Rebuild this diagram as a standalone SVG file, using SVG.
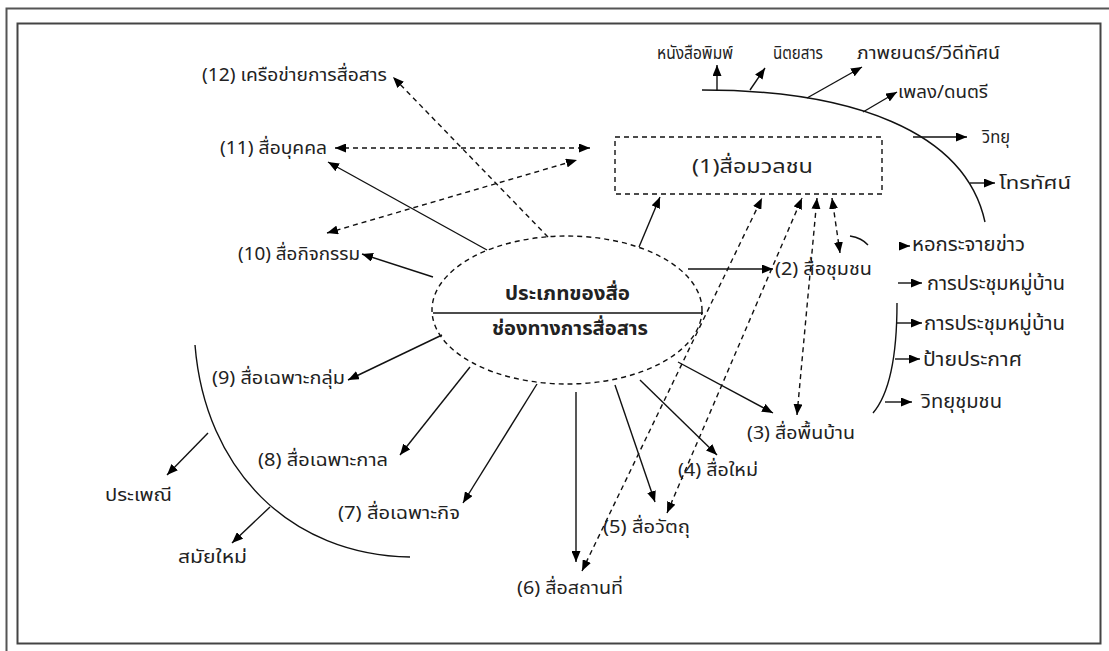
<svg xmlns="http://www.w3.org/2000/svg" width="1109" height="651" viewBox="0 0 1109 651">
<defs>
<marker id="ah" viewBox="0 0 11 9" refX="11" refY="4.5" markerWidth="11" markerHeight="9" markerUnits="userSpaceOnUse" orient="auto-start-reverse">
<path d="M0,0 L11,4.5 L0,9 z" fill="#000"/>
</marker>
<style>
.t{font-family:"Noto Sans Thai","Tahoma","DejaVu Sans","Liberation Sans",sans-serif;font-size:18px;fill:#222}
.m{font-size:18.5px}
.r{font-size:19px}
.b{font-weight:bold;font-size:19px}
.s{stroke:#111;stroke-width:1.4;fill:none}
.d{stroke:#111;stroke-width:1.4;fill:none;stroke-dasharray:5,4}
.a{marker-end:url(#ah)}
.aa{marker-start:url(#ah);marker-end:url(#ah)}
</style>
</defs>
<rect x="0" y="0" width="1109" height="651" fill="#fff"/>
<rect x="6.5" y="8.5" width="1110" height="650" fill="none" stroke="#555" stroke-width="2"/>
<rect x="17.5" y="23.5" width="1083" height="620" fill="none" stroke="#444" stroke-width="2"/>

<g id="connectors">
<path class="s a" d="M639,247 L660,197"/>
<path class="s a" d="M688,269 L773,269"/>
<path class="s a" d="M678,362 L773,413"/>
<path class="s a" d="M640,380 L717,455"/>
<path class="s a" d="M615,385 L655,502"/>
<path class="s a" d="M576,392 L576,562"/>
<path class="s a" d="M537,384 L463,503"/>
<path class="s a" d="M470,367 L400,455"/>
<path class="s a" d="M442,335 L348,380"/>
<path class="s a" d="M433,277 L362,254"/>
<path class="s a" d="M487,250 L328,162"/>
<path class="d a" d="M548,237 L393,77"/>
<path class="d aa" d="M335,148 L590,148"/>
<path class="d aa" d="M327,233 L577,160"/>
<path class="d aa" d="M582,571 L762,198"/>
<path class="d aa" d="M667,513 L802,198"/>
<path class="d aa" d="M797,415 L817,198"/>
<path class="d aa" d="M840,253 L832,198"/>
<path class="s" d="M702,90 C850,90 965,130 985,222"/>
<path class="s a" d="M717,90 L717,65"/>
<path class="s a" d="M750,90 L765,68"/>
<path class="s a" d="M807,98 L862,67"/>
<path class="s a" d="M863,112 L897,92"/>
<path class="s a" d="M913,137 L967,137"/>
<path class="s a" d="M970,183 L995,183"/>
<path class="s" d="M850,236 Q862,238 868,245"/>
<path class="s" d="M897,303 Q897,385 873,413"/>
<path class="s a" d="M900,246 L910,246"/>
<path class="s a" d="M898,283 L922,283"/>
<path class="s a" d="M897,323 L922,323"/>
<path class="s a" d="M895,359 L920,359"/>
<path class="s a" d="M885,402 L912,402"/>
<path class="s" d="M195,345 C205,470 290,555 410,557"/>
<path class="s a" d="M208,433 L167,475"/>
<path class="s a" d="M270,507 L232,543"/>
</g>

<g id="center">
<ellipse cx="567" cy="310" rx="135" ry="74" class="d"/>
<path class="s" d="M433,313 L703,313"/>
<text class="t b" x="505" y="300" textLength="125" lengthAdjust="spacingAndGlyphs">ประเภทของสื่อ</text>
<text class="t b" x="492" y="335" textLength="156" lengthAdjust="spacingAndGlyphs">ช่องทางการสื่อสาร</text>
</g>
<g id="n1">
<rect x="615" y="137" width="267" height="57" class="d"/>
<text class="t" x="692" y="173" style="font-size:20px" textLength="121" lengthAdjust="spacingAndGlyphs">(1)สื่อมวลชน</text>
</g>
<g id="n2"><text class="t" x="775" y="275" textLength="97" lengthAdjust="spacingAndGlyphs">(2) สื่อชุมชน</text></g>
<g id="n3"><text class="t" x="747" y="439" textLength="108" lengthAdjust="spacingAndGlyphs">(3) สื่อพื้นบ้าน</text></g>
<g id="n4"><text class="t" x="678" y="476" textLength="80" lengthAdjust="spacingAndGlyphs">(4) สื่อใหม่</text></g>
<g id="n5"><text class="t" x="603" y="533" textLength="87" lengthAdjust="spacingAndGlyphs">(5) สื่อวัตถุ</text></g>
<g id="n6"><text class="t" x="517" y="594" textLength="106" lengthAdjust="spacingAndGlyphs">(6) สื่อสถานที่</text></g>
<g id="n7"><text class="t" x="338" y="519" textLength="122" lengthAdjust="spacingAndGlyphs">(7) สื่อเฉพาะกิจ</text></g>
<g id="n8"><text class="t" x="258" y="466" textLength="130" lengthAdjust="spacingAndGlyphs">(8) สื่อเฉพาะกาล</text></g>
<g id="n9"><text class="t" x="212" y="384" textLength="133" lengthAdjust="spacingAndGlyphs">(9) สื่อเฉพาะกลุ่ม</text></g>
<g id="n10"><text class="t" x="238" y="260" textLength="122" lengthAdjust="spacingAndGlyphs">(10) สื่อกิจกรรม</text></g>
<g id="n11"><text class="t" x="220" y="154" textLength="107" lengthAdjust="spacingAndGlyphs">(11) สื่อบุคคล</text></g>
<g id="n12"><text class="t" x="202" y="81" textLength="185" lengthAdjust="spacingAndGlyphs">(12) เครือข่ายการสื่อสาร</text></g>
<g id="tradition"><text class="t" x="105" y="501" textLength="67" lengthAdjust="spacingAndGlyphs">ประเพณี</text></g>
<g id="modern"><text class="t" x="178" y="563" textLength="69" lengthAdjust="spacingAndGlyphs">สมัยใหม่</text></g>
<g id="mass-items">
<text class="t m" x="657" y="59" textLength="76" lengthAdjust="spacingAndGlyphs">หนังสือพิมพ์</text>
<text class="t m" x="773" y="59" textLength="50" lengthAdjust="spacingAndGlyphs">นิตยสาร</text>
<text class="t m" x="857" y="59" textLength="143" lengthAdjust="spacingAndGlyphs">ภาพยนตร์/วีดีทัศน์</text>
<text class="t m" x="898" y="98" textLength="90" lengthAdjust="spacingAndGlyphs">เพลง/ดนตรี</text>
<text class="t m" x="982" y="143" textLength="28" lengthAdjust="spacingAndGlyphs">วิทยุ</text>
<text class="t m" x="999" y="189" textLength="72" lengthAdjust="spacingAndGlyphs">โทรทัศน์</text>
</g>
<g id="community-items">
<text class="t r" x="912" y="251" textLength="113" lengthAdjust="spacingAndGlyphs">หอกระจายข่าว</text>
<text class="t r" x="927" y="290" textLength="138" lengthAdjust="spacingAndGlyphs">การประชุมหมู่บ้าน</text>
<text class="t r" x="924" y="330" textLength="141" lengthAdjust="spacingAndGlyphs">การประชุมหมู่บ้าน</text>
<text class="t r" x="923" y="366" textLength="99" lengthAdjust="spacingAndGlyphs">ป้ายประกาศ</text>
<text class="t r" x="921" y="408" textLength="81" lengthAdjust="spacingAndGlyphs">วิทยุชุมชน</text>
</g>
</svg>
